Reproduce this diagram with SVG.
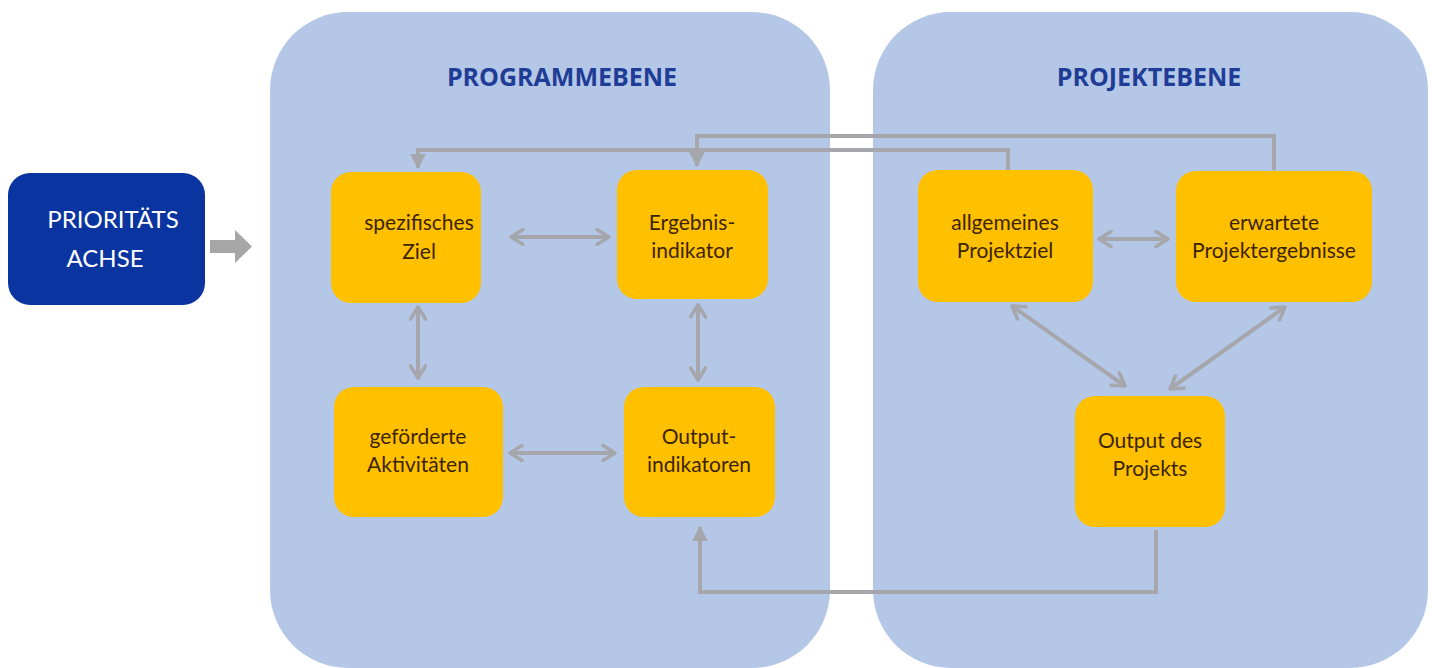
<svg xmlns="http://www.w3.org/2000/svg" width="1432" height="668" viewBox="0 0 1432 668">
<style>
.panel{fill:#B4C7E7}
.box{fill:#FFC000}
.t{font-family:Lato,"Open Sans",sans-serif;font-size:21px;fill:#3C2400;text-anchor:middle}
.title{font-family:"Open Sans",Lato,sans-serif;font-size:25px;font-weight:bold;fill:#1F3C96;text-anchor:middle}
.c{fill:none;stroke:#A5A7AC;stroke-width:4}
.ca{fill:none;stroke:#A5A7AC;stroke-width:4;marker-start:url(#open);marker-end:url(#open)}
</style>
<defs>
<marker id="open" viewBox="0 0 12 12" refX="10" refY="6" markerWidth="4.5" markerHeight="4.5" orient="auto-start-reverse" markerUnits="strokeWidth">
<path d="M2,1 L10,6 L2,11" fill="none" stroke="#A5A7AC" stroke-width="2.4" stroke-linecap="round" stroke-linejoin="round"/>
</marker>
<marker id="tri" viewBox="0 0 10 10" refX="9" refY="5" markerWidth="4" markerHeight="4" orient="auto" markerUnits="strokeWidth">
<path d="M0,0 L10,5 L0,10 Z" fill="#A5A7AC"/>
</marker>
</defs>
<rect width="1432" height="668" fill="#FFFFFF"/>
<g id="panel-programm">
<rect class="panel" x="270" y="12" width="560" height="656" rx="78"/>
<text class="title" x="562" y="86">PROGRAMMEBENE</text>
</g>
<g id="panel-projekt">
<rect class="panel" x="873" y="12" width="555" height="656" rx="78"/>
<text class="title" x="1149" y="86">PROJEKTEBENE</text>
</g>
<g id="node-achse">
<rect x="8" y="173" width="197" height="132" rx="22" fill="#0A35A0"/>
<text x="113" y="228" font-family="Lato,'Open Sans',sans-serif" font-size="24" fill="#FFFFFF" text-anchor="middle">PRIORITÄTS</text>
<text x="105" y="267" font-family="Lato,'Open Sans',sans-serif" font-size="24" fill="#FFFFFF" text-anchor="middle">ACHSE</text>
</g>
<g id="block-arrow">
<path d="M210,240 H235 V230 L252,246.5 L235,263 V253 H210 Z" fill="#A6A6A6"/>
</g>
<g id="node-spez">
<rect class="box" x="331" y="172" width="150" height="131" rx="20"/>
<text class="t" x="419" y="230">spezifisches</text>
<text class="t" x="419" y="259">Ziel</text>
</g>
<g id="node-ergebnis">
<rect class="box" x="617" y="170" width="151" height="129" rx="20"/>
<text class="t" x="692" y="230">Ergebnis-</text>
<text class="t" x="692" y="258">indikator</text>
</g>
<g id="node-gefoerdert">
<rect class="box" x="334" y="387" width="169" height="130" rx="20"/>
<text class="t" x="418" y="444">geförderte</text>
<text class="t" x="418" y="472">Aktivitäten</text>
</g>
<g id="node-outputind">
<rect class="box" x="624" y="387" width="151" height="130" rx="20"/>
<text class="t" x="699" y="444">Output-</text>
<text class="t" x="699" y="472">indikatoren</text>
</g>
<g id="node-allgemein">
<rect class="box" x="918" y="170" width="175" height="132" rx="20"/>
<text class="t" x="1005" y="230">allgemeines</text>
<text class="t" x="1005" y="258">Projektziel</text>
</g>
<g id="node-erwartet">
<rect class="box" x="1176" y="171" width="196" height="131" rx="20"/>
<text class="t" x="1274" y="230">erwartete</text>
<text class="t" x="1274" y="258">Projektergebnisse</text>
</g>
<g id="node-outputprojekt">
<rect class="box" x="1075" y="396" width="150" height="131" rx="20"/>
<text class="t" x="1150" y="448">Output des</text>
<text class="t" x="1150" y="476">Projekts</text>
</g>
<g id="connectors">
<line class="ca" x1="511" y1="237" x2="609" y2="237"/>
<line class="ca" x1="418" y1="307" x2="418" y2="378"/>
<line class="ca" x1="698" y1="305" x2="698" y2="380"/>
<line class="ca" x1="510" y1="453" x2="615" y2="453"/>
<line class="ca" x1="1099" y1="239" x2="1168" y2="239"/>
<line class="ca" x1="1012" y1="306" x2="1125" y2="386"/>
<line class="ca" x1="1285" y1="307" x2="1170" y2="389"/>
<path class="c" d="M1008,170 V150 H418 V168" marker-end="url(#tri)"/>
<path class="c" d="M1274,170 V136 H697 V166" marker-end="url(#tri)"/>
<path class="c" d="M1156,530 V592 H700 V527" marker-end="url(#tri)"/>
</g>
</svg>
